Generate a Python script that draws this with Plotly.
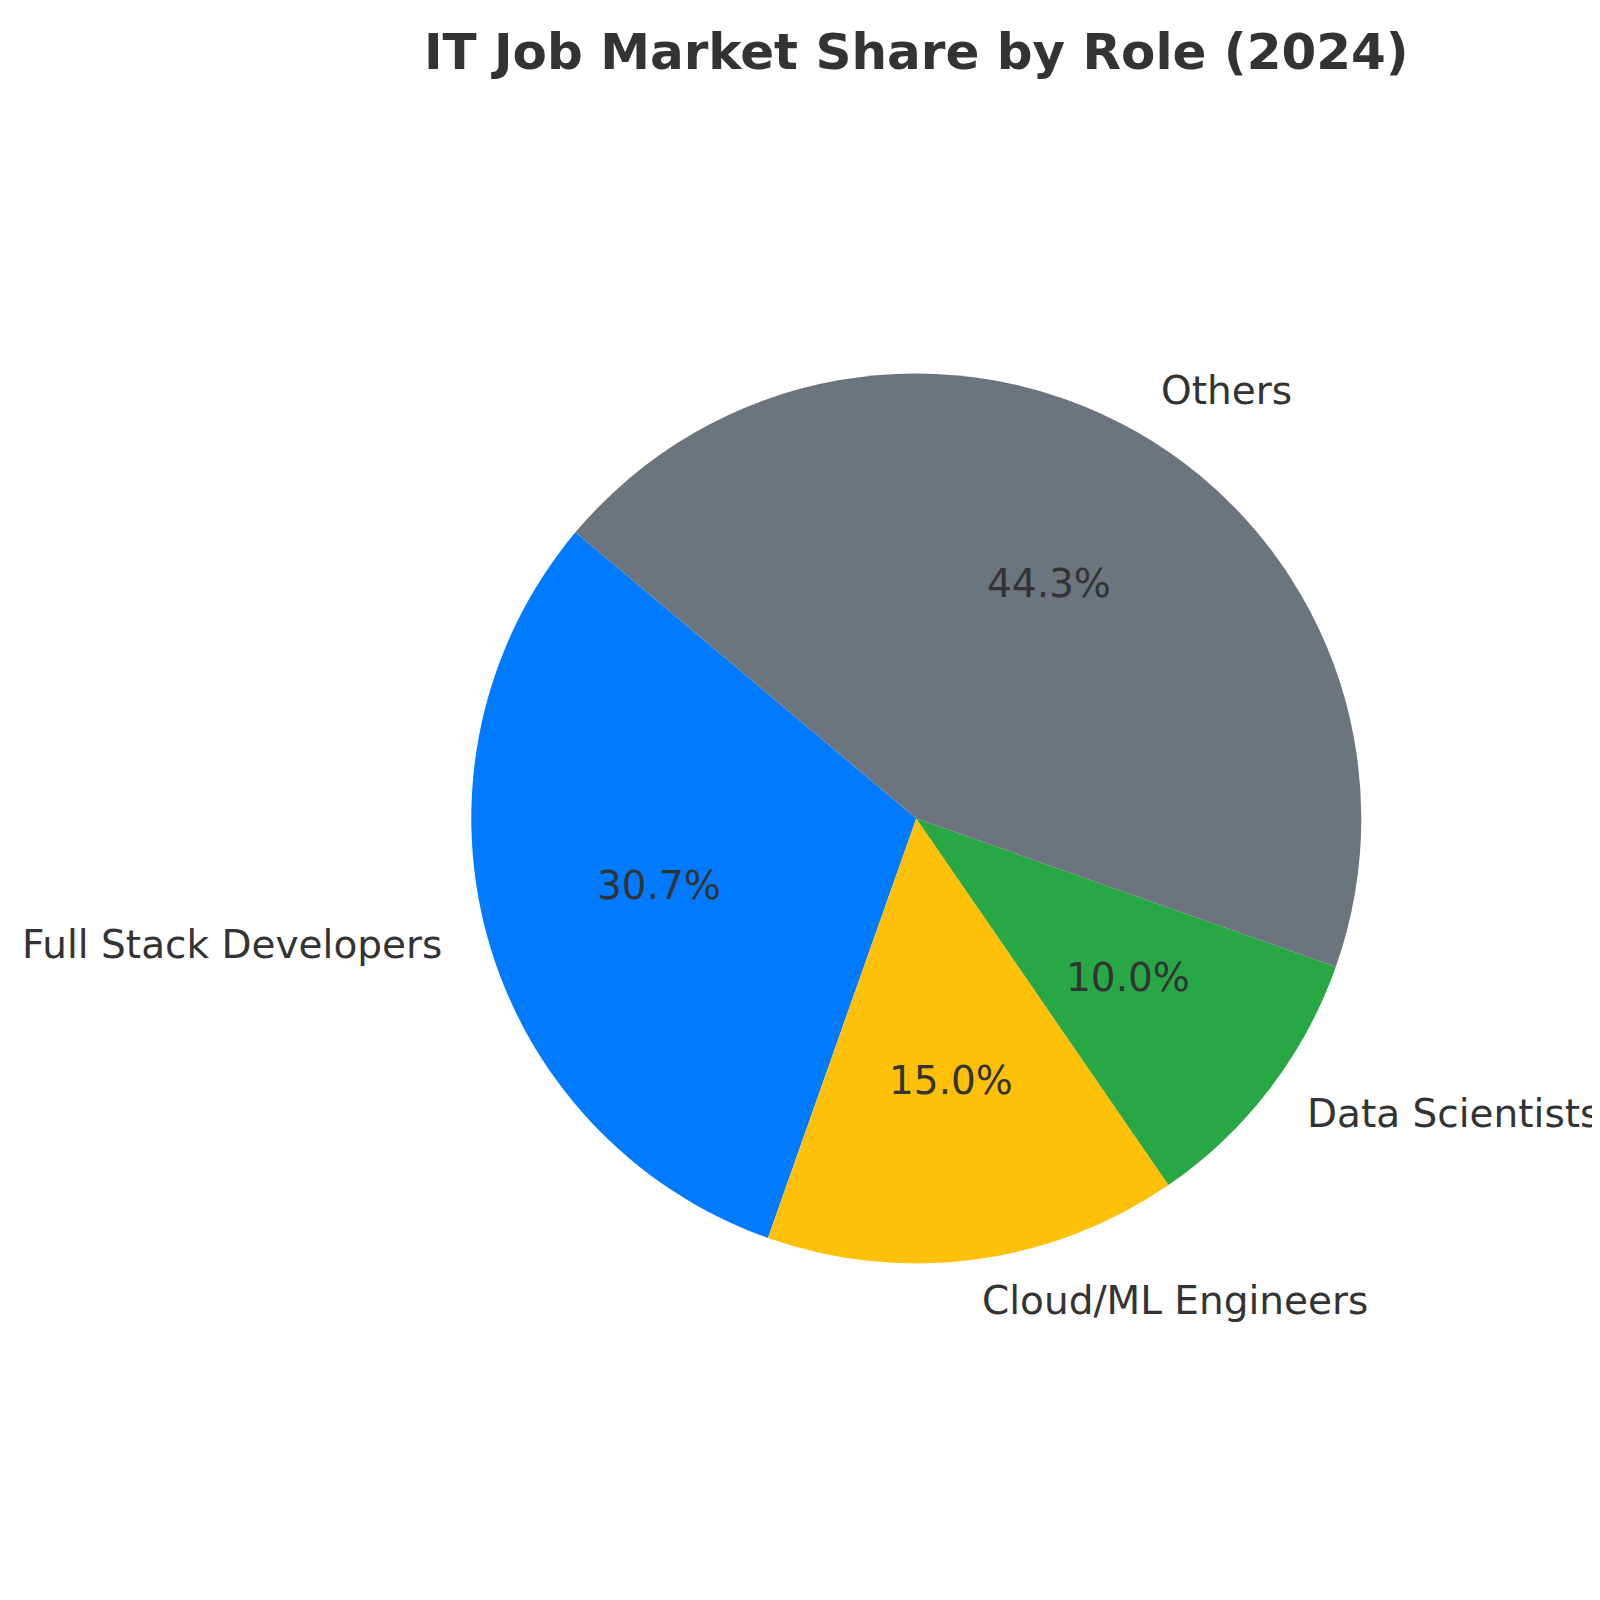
import math
import plotly.graph_objects as go

labels = ["Full Stack Developers", "Cloud/ML Engineers", "Data Scientists", "Others"]
values = [30.7, 15.0, 10.0, 44.3]
colors = ["#007bff", "#ffc107", "#28a745", "#6c757d"]
title_text = "IT Job Market Share by Role (2024)"

W = H = 1600
off = 8.0  # browser default body margin compensation
cx, cy, r = 916.3 - off, 818.4 - off, 445.0  # pixel geometry of pie
start_angle = 140.0  # degrees, counterclockwise from 3 o'clock

total = sum(values)
# plotly (counterclockwise): first slice ends at 'rotation' (clockwise from 12 o'clock)
rotation = (90 - start_angle) - 360.0 * values[0] / total

fig = go.Figure()
fig.add_trace(go.Pie(
    labels=labels, values=values, sort=False, direction="counterclockwise",
    rotation=rotation, marker=dict(colors=colors, line=dict(width=0)),
    textinfo="none", hoverinfo="label+percent", showlegend=False,
    domain=dict(x=[(cx - r) / W, (cx + r) / W], y=[(H - cy - r) / H, (H - cy + r) / H]),
))

annotations = []
ang = start_angle
txtcol = "#333333"
for lab, v in zip(labels, values):
    span = 360.0 * v / total
    mid = math.radians(ang + span / 2)
    ang += span
    lx = cx + 1.1 * r * math.cos(mid)
    ly = cy - 1.1 * r * math.sin(mid)
    annotations.append(dict(
        x=lx / W, y=1 - ly / H, xref="paper", yref="paper", text=lab, showarrow=False,
        xanchor="left" if math.cos(mid) > 0 else "right", yanchor="middle", yshift=3,
        font=dict(family="DejaVu Sans", size=39, color=txtcol)))
    px = cx + 0.6 * r * math.cos(mid)
    py = cy - 0.6 * r * math.sin(mid)
    annotations.append(dict(
        x=px / W, y=1 - py / H, xref="paper", yref="paper", text=f"{100 * v / total:.1f}%",
        showarrow=False, xanchor="center", yanchor="middle", yshift=3,
        font=dict(family="DejaVu Sans", size=39, color=txtcol)))

fig.update_layout(
    width=W, height=H, margin=dict(l=0, r=0, t=0, b=0),
    paper_bgcolor="white", plot_bgcolor="white",
    title=dict(text=f"<b>{title_text}</b>", x=cx / W, xanchor="center", y=1 - 43 / H, yanchor="middle",
               font=dict(family="DejaVu Sans", size=50, color=txtcol)),
    annotations=annotations,
)
fig.write_html("out.html")
